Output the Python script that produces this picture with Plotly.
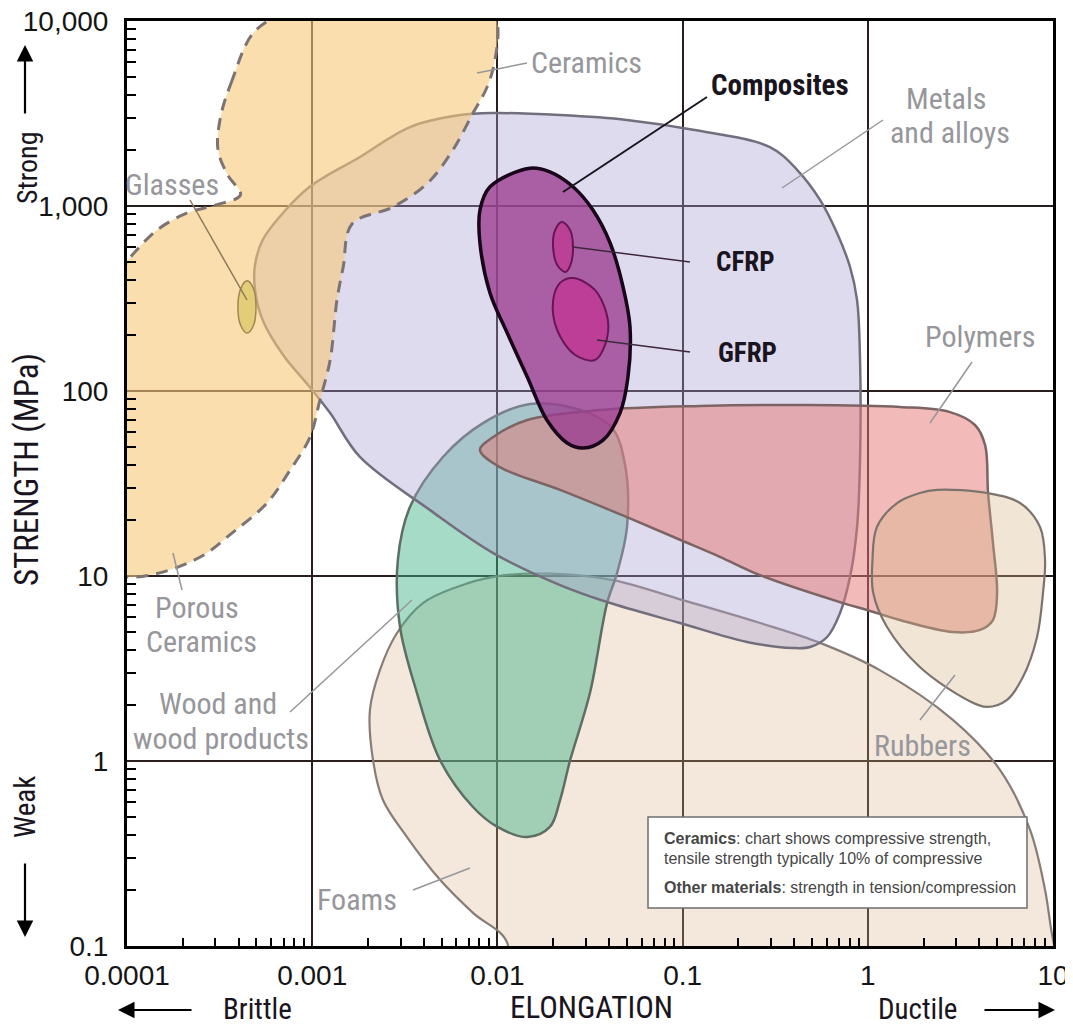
import plotly.graph_objects as go

# --- region outlines: elongation (-) vs strength (MPa) ---
ceramics_elong = [4.8e-4, 3.7e-4, 3.2e-4, 3.1e-4, 3.5e-4, 4.1e-4, 3.0e-4, 2.1e-4, 1.45e-4,
                  1.13e-4, 1.0e-4, 8.1e-5, 7.6e-5, 8.1e-5, 1.0e-4, 1.5e-4, 2.5e-4, 3.7e-4,
                  5.7e-4, 7.6e-4, 9.7e-4, 1.1e-3, 1.25e-3, 1.36e-3, 1.47e-3, 1.64e-3,
                  2.73e-3, 4.2e-3, 5.75e-3, 7.4e-3, 8.8e-3, 9.7e-3, 1.0e-2, 8.6e-3, 4.3e-3,
                  1.6e-3, 7.1e-4]
ceramics_strength = [8600, 4800, 3030, 2010, 1470, 1150, 1010, 915, 741, 578, 498, 310, 48,
                     10.8, 9.9, 10.4, 12.7, 17.1, 24.8, 37.4, 56, 89, 147, 310, 468, 800,
                     988, 1330, 2010, 3190, 4400, 6150, 9750, 14400, 16700, 15700, 11200]

metals_elong = [5.4e-4, 6.95e-4, 9.7e-4, 1.81e-3, 3.37e-3, 6.28e-3, 9.5e-3, 0.0218, 0.050,
                0.114, 0.296, 0.415, 0.552, 0.682, 0.802, 0.875, 0.908, 0.908, 0.875, 0.802,
                0.708, 0.603, 0.488, 0.394, 0.223, 0.0968, 0.0391, 0.0218, 0.0095, 0.00433,
                0.00181, 0.00125, 0.00097, 0.000695, 0.00054, 0.000491, 0.000491]
metals_strength = [655, 916, 1270, 1840, 2670, 3100, 3180, 3100, 2920, 2580, 2080, 1570, 1080,
                   714, 468, 310, 147, 42.4, 18.4, 9.9, 6.3, 4.68, 4.13, 4.08, 4.40, 5.57,
                   7.23, 8.93, 13.3, 22.7, 44.0, 76.0, 105, 157, 242, 352, 480]

wood_elong = [0.0150, 0.0279, 0.0416, 0.0489, 0.0501, 0.0443, 0.0391, 0.0316, 0.0247, 0.0218,
              0.0192, 0.0145, 0.0100, 0.00738, 0.0049, 0.00368, 0.00298, 0.0029, 0.00337,
              0.00508, 0.00836]
wood_strength = [85.1, 78.9, 63.1, 39.8, 18.4, 10.4, 7.14, 2.33, 1.01, 0.615, 0.44, 0.388,
                 0.44, 0.564, 1.01, 2.33, 5.30, 12.2, 23.6, 44.0, 67.1]

polymers_elong = [0.00805, 0.0095, 0.0145, 0.0358, 0.124, 0.431, 1.49, 2.78, 3.79, 4.30, 4.46,
                  4.74, 4.99, 4.74, 4.04, 2.88, 1.49, 0.991, 0.734, 0.262, 0.159, 0.0968,
                  0.0501, 0.0218, 0.0103]
polymers_strength = [48.0, 56.4, 69.7, 78.9, 83.0, 84.0, 82.0, 76.9, 65.5, 51.0, 28.1, 15.1,
                     8.09, 5.78, 5.11, 4.98, 5.78, 6.55, 7.14, 10.1, 12.7, 15.7, 20.8, 29.2, 38.8]

rubbers_elong = [2.37, 4.40, 6.64, 8.51, 9.06, 8.83, 8.20, 6.89, 5.65, 4.40, 3.44, 1.91, 1.27,
                 1.07, 1.06, 1.12, 1.44, 1.91]
rubbers_strength = [29.2, 28.1, 24.8, 18.4, 12.2, 8.09, 4.68, 2.85, 2.14, 1.96, 2.14, 3.22,
                    5.30, 8.09, 12.2, 18.4, 24.8, 28.1]

foams_elong = [0.0095, 0.0192, 0.0421, 0.100, 0.262, 0.552, 1.16, 2.88, 5.18, 7.52, 9.06, 10.0,
               12.4, 0.336, 0.0103, 0.0113, 0.00738, 0.0049, 0.00325, 0.00241, 0.00213,
               0.00205, 0.00232, 0.00287, 0.00396, 0.00605]
foams_strength = [9.9, 10.3, 9.5, 7.41, 5.57, 4.35, 3.10, 1.67, 0.893, 0.424, 0.201, 0.108,
                  0.045, 0.045, 0.045, 0.104, 0.151, 0.228, 0.388, 0.615, 1.01, 1.89, 3.10,
                  4.92, 7.14, 8.73]

composites_elong = [0.0150, 0.0192, 0.0256, 0.0328, 0.0406, 0.0477, 0.0520, 0.0507, 0.0459,
                    0.0372, 0.0290, 0.0238, 0.0185, 0.0145, 0.0113, 0.00912, 0.00805, 0.00805,
                    0.00912]
composites_strength = [1600, 1530, 1270, 951, 631, 365, 222, 119, 76.0, 54.3, 49.2, 52.4, 69.7,
                       119, 206, 339, 631, 951, 1270]

cfrp_elong = [0.0223, 0.0247, 0.0256, 0.0247, 0.0234, 0.0212, 0.0200, 0.0205]
cfrp_strength = [820, 741, 578, 474, 440, 474, 593, 741]

gfrp_elong = [0.0256, 0.0336, 0.0395, 0.0381, 0.0336, 0.0262, 0.0210, 0.0200, 0.0218]
gfrp_strength = [408, 352, 242, 177, 147, 157, 214, 310, 384]

glasses_elong = [4.45e-4, 4.8e-4, 4.97e-4, 4.8e-4, 4.45e-4, 4.13e-4, 3.97e-4, 4.13e-4]
glasses_strength = [394, 361, 284, 224, 206, 224, 284, 361]

x_ticks = [1e-4, 1e-3, 1e-2, 1e-1, 1, 10]
x_labels = ["0.0001", "0.001", "0.01", "0.1", "1", "10"]
y_ticks = [0.1, 1, 10, 100, 1000, 10000]
y_labels = ["0.1", "1", "10", "100", "1,000", "10,000"]

# --- styling ---
# page coordinates of the plot frame; the page body keeps an 8px margin,
# so the figure is drawn from (8, 8) to the window edge
PAGE_W, PAGE_H, BODY = 1073, 1028, 8
L, R, T, B = 127, 1053, 21, 946
W, H = PAGE_W - BODY, PAGE_H - BODY
NARROW = "Liberation Sans Narrow, Roboto Condensed, Roboto, sans-serif"
PLAIN = "Liberation Sans, Arial, sans-serif"
GREY = "rgb(150,150,155)"
DARK = "rgb(25,20,30)"
TICK_FONT = dict(family=PLAIN, size=28, color="rgb(20,20,20)")

regions = [
    # name, x, y, fill, line colour, width, dash
    ("Foams", foams_elong, foams_strength, "rgba(215,180,135,0.30)", "rgb(135,125,118)", 2.2, "solid"),
    ("Wood", wood_elong, wood_strength, "rgba(70,180,140,0.48)", "rgb(95,110,100)", 2.5, "solid"),
    ("Metals", metals_elong, metals_strength, "rgba(170,160,210,0.38)", "rgb(115,110,125)", 2.5, "solid"),
    ("Ceramics", ceramics_elong, ceramics_strength, "rgba(246,200,120,0.60)", "rgb(125,115,115)", 3, "12px,8px"),
    ("Polymers", polymers_elong, polymers_strength, "rgba(230,120,115,0.50)", "rgb(125,100,100)", 2.5, "solid"),
    ("Rubbers", rubbers_elong, rubbers_strength, "rgba(215,180,135,0.35)", "rgb(125,115,110)", 2.2, "solid"),
    ("Composites", composites_elong, composites_strength, "rgba(155,60,145,0.78)", "rgb(25,5,25)", 3.5, "solid"),
    ("CFRP", cfrp_elong, cfrp_strength, "rgba(200,40,140,0.55)", "rgb(105,20,85)", 2, "solid"),
    ("GFRP", gfrp_elong, gfrp_strength, "rgba(200,40,140,0.60)", "rgb(105,20,85)", 2, "solid"),
    ("Glasses", glasses_elong, glasses_strength, "rgb(228,205,120)", "rgb(160,135,80)", 1.5, "solid"),
]

fig = go.Figure()
for name, xs, ys, fill, lc, lw, dash in regions:
    fig.add_trace(go.Scatter(
        x=xs + xs[:1], y=ys + ys[:1], name=name, mode="lines", fill="toself",
        fillcolor=fill, line=dict(color=lc, width=lw, dash=dash, shape="spline",
                                  smoothing=1, simplify=False),
        hoverinfo="skip", showlegend=False))


def paper(px, py):
    return (px - L) / (R - L), (B - py) / (B - T)


def leader(x0, y0, x1, y1, color=GREY, width=1.5):
    a, b = paper(x0, y0)
    c, d = paper(x1, y1)
    fig.add_shape(type="line", xref="paper", yref="paper", x0=a, y0=b, x1=c, y1=d,
                  line=dict(color=color, width=width))


def label(text, px, py, size=30, color=GREY, family=NARROW, angle=0, xanchor="center"):
    x, y = paper(px, py)
    fig.add_annotation(x=x, y=y, xref="paper", yref="paper", text=text, showarrow=False,
                       font=dict(family=family, size=size, color=color),
                       textangle=angle, xanchor=xanchor, yanchor="middle", align="center")


def arrow(hx, hy, dx, dy):
    x, y = paper(hx, hy)
    fig.add_annotation(x=x, y=y, xref="paper", yref="paper", text="", showarrow=True,
                       ax=dx, ay=dy, arrowhead=2, arrowsize=1.5, arrowwidth=2.2,
                       arrowcolor="black")


# leaders
leader(477, 73, 527, 63)
leader(563, 192, 707, 97, DARK, 2)
leader(782, 188, 883, 120)
leader(190, 200, 247, 300, "rgb(140,120,90)")
leader(573, 247, 690, 262, "rgb(60,40,60)")
leader(597, 340, 690, 352, "rgb(60,40,60)")
leader(930, 423, 972, 362)
leader(173, 553, 182, 590)
leader(290, 712, 412, 600)
leader(920, 720, 955, 675)
leader(413, 890, 470, 868)

# region labels
label("Ceramics", 586, 63)
label("<b>Composites</b>", 780, 85, size=29, color=DARK)
label("Metals", 946, 98)
label("and alloys", 950, 132)
label("Glasses", 172, 185)
label("<b>CFRP</b>", 745, 262, size=27, color=DARK)
label("<b>GFRP</b>", 747, 353, size=27, color=DARK)
label("Polymers", 980, 337)
label("Porous", 197, 607)
label("Ceramics", 201, 641)
label("Wood and", 218, 703)
label("wood products", 221, 738)
label("Rubbers", 922, 745)
label("Foams", 357, 899)

# note box
a, b = paper(648, 817)
c, d = paper(1027, 908)
fig.add_shape(type="rect", xref="paper", yref="paper", x0=a, y0=b, x1=c, y1=d,
              fillcolor="white", line=dict(color="rgb(110,110,110)", width=1.5))
note = [("<b>Ceramics</b>: chart shows compressive strength,", 838),
        ("tensile strength typically 10% of compressive", 858),
        ("<b>Other materials</b>: strength in tension/compression", 887)]
for txt, py in note:
    label(txt, 662, py, size=16, color="rgb(70,70,70)", family=PLAIN, xanchor="left")

# axis titles and direction arrows
label("ELONGATION", 591, 1007, size=31, color=DARK)
label("STRENGTH (MPa)", 26, 470, size=33, color=DARK, angle=-90)
label("Brittle", 257, 1009, size=29, color=DARK)
label("Ductile", 917, 1009, size=29, color=DARK)
label("Strong", 27, 168, size=28, color=DARK, angle=-90)
label("Weak", 25, 807, size=29, color=DARK, angle=-90)
arrow(25, 45, 0, 70)
arrow(25, 937, 0, -75)
arrow(118, 1010, 75, 0)
arrow(1055, 1010, -72, 0)

minor_x = [m * 10.0 ** e for e in range(-4, 1) for m in range(2, 10)]
minor_y = [m * 10.0 ** e for e in range(-1, 4) for m in range(2, 10)]
axis_common = dict(
    type="log", showgrid=True, gridcolor="rgb(40,30,30)", gridwidth=1.6, ticks="",
    showline=True, linewidth=3, linecolor="black", mirror=True, zeroline=False,
    automargin=False, ticklabeloverflow="allow", tickfont=TICK_FONT,
)
fig.update_xaxes(range=[-4, 1], tickvals=x_ticks, ticktext=x_labels, ticklabelstandoff=2,
                 minor=dict(tickvals=minor_x, ticks="inside", ticklen=8, tickwidth=2,
                            tickcolor="black", showgrid=False), **axis_common)
fig.update_yaxes(range=[-1, 4], tickvals=y_ticks, ticktext=y_labels, ticklabelstandoff=10,
                 minor=dict(tickvals=minor_y, ticks="inside", ticklen=9, tickwidth=2,
                            tickcolor="black", showgrid=False), **axis_common)

fig.update_layout(width=W, height=H, autosize=False,
                  margin=dict(l=L - BODY, r=W - (R - BODY), t=T - BODY, b=H - (B - BODY)),
                  plot_bgcolor="white", paper_bgcolor="white", showlegend=False)

fig.write_html("out.html")
